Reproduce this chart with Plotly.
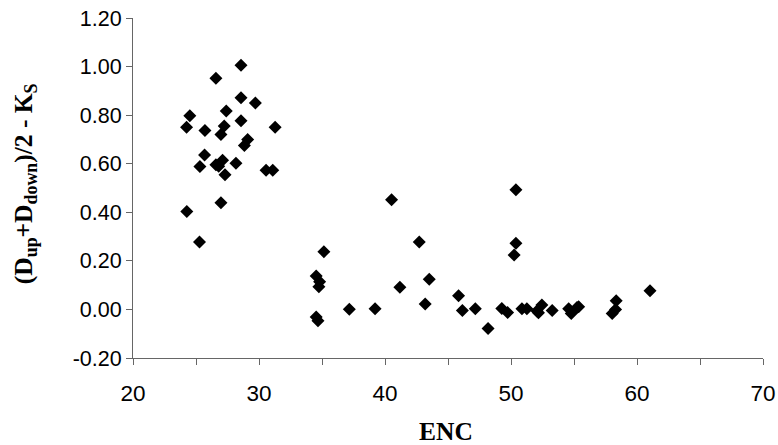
import plotly.graph_objects as go

enc = [28.57, 26.58, 28.57, 29.71, 27.40, 24.51, 28.57, 24.25, 25.71, 27.24,
       26.98, 31.28, 29.10, 28.84, 25.68, 25.31, 26.58, 27.11, 26.80, 28.17,
       27.30, 30.56, 31.09, 26.98, 24.27, 25.28,
       35.15, 34.54, 34.81, 34.75, 37.17, 34.54, 34.68,
       40.52, 50.39, 42.72, 50.39, 50.25, 43.51, 41.18, 45.84, 43.19, 39.21,
       46.14, 47.17, 48.18, 49.27, 49.73, 50.87, 51.26, 52.06, 52.45, 52.18,
       53.27, 54.58, 54.78, 55.24, 55.37, 58.35, 58.03, 58.30, 61.03]
val = [1.005, 0.952, 0.872, 0.850, 0.817, 0.797, 0.777, 0.750, 0.737, 0.755,
       0.720, 0.750, 0.700, 0.675, 0.636, 0.589, 0.596, 0.614, 0.590, 0.602,
       0.555, 0.573, 0.573, 0.439, 0.403, 0.278,
       0.238, 0.138, 0.114, 0.093, 0.001, -0.031, -0.047,
       0.452, 0.493, 0.278, 0.273, 0.224, 0.124, 0.091, 0.056, 0.022, 0.003,
       -0.004, 0.003, -0.079, 0.004, -0.013, 0.003, 0.003, -0.006, 0.018, -0.014,
       -0.004, 0.003, -0.017, 0.008, 0.011, 0.036, -0.017, 0.000, 0.077]

x_ticks = [20, 30, 40, 50, 60, 70]
y_ticks = [-0.2, 0.0, 0.2, 0.4, 0.6, 0.8, 1.0, 1.2]
y_tick_labels = ["-0.20", "0.00", "0.20", "0.40", "0.60", "0.80", "1.00", "1.20"]

fig = go.Figure()
fig.add_trace(go.Scatter(x=enc, y=val, mode="markers",
                         marker=dict(symbol="diamond", size=10, color="black"),
                         showlegend=False, hoverinfo="skip"))

W, H = 778, 445
L, T = 133, 18.3
R = W - 763
B = H - 358.3
pw = W - L - R
ph = H - T - B

def px_to_paper(px, py):
    return (px - L) / pw, (H - B - py) / ph

serif = dict(family="Liberation Serif, Times New Roman, serif", size=25.5, color="black", weight="bold")
ex, ey = px_to_paper(446, 432)
yx, yy = px_to_paper(25, 184.5)

axis_col = "#666"
fig.update_layout(
    width=W, height=H,
    margin=dict(l=L, r=R, t=T, b=B, pad=0),
    paper_bgcolor="white", plot_bgcolor="white",
    xaxis=dict(range=[20, 70], tickvals=x_ticks, showgrid=False, zeroline=False,
               showline=True, linecolor=axis_col, linewidth=1,
               ticks="outside", ticklen=6, tickcolor=axis_col,
               minor=dict(dtick=5, tick0=20, ticks="outside", ticklen=6, tickcolor=axis_col),
               tickfont=dict(family="Liberation Sans, Arial, sans-serif", size=22.5, color="black"),
               ticklabelstandoff=9, ticklabeloverflow="allow", automargin=False),
    yaxis=dict(range=[-0.2, 1.2], tickvals=y_ticks, ticktext=y_tick_labels,
               showgrid=False, zeroline=False,
               showline=True, linecolor=axis_col, linewidth=1,
               ticks="outside", ticklen=6, tickcolor=axis_col,
               tickfont=dict(family="Liberation Sans, Arial, sans-serif", size=21.5, color="black"),
               ticklabeloverflow="allow", automargin=False),
    annotations=[
        dict(text="ENC", x=ex, y=ey, xref="paper", yref="paper",
             xanchor="center", yanchor="middle", showarrow=False, font=serif),
        dict(text="(D<sub>up</sub>+D<sub>down</sub>)/2 - K<sub>S</sub>",
             x=yx, y=yy, xref="paper", yref="paper", xanchor="center", yanchor="middle",
             textangle=-90, showarrow=False, font=serif),
    ],
)

fig.write_html("out.html", config={"displayModeBar": False},
               post_script="document.body.style.margin='0';document.body.style.overflow='hidden';")
